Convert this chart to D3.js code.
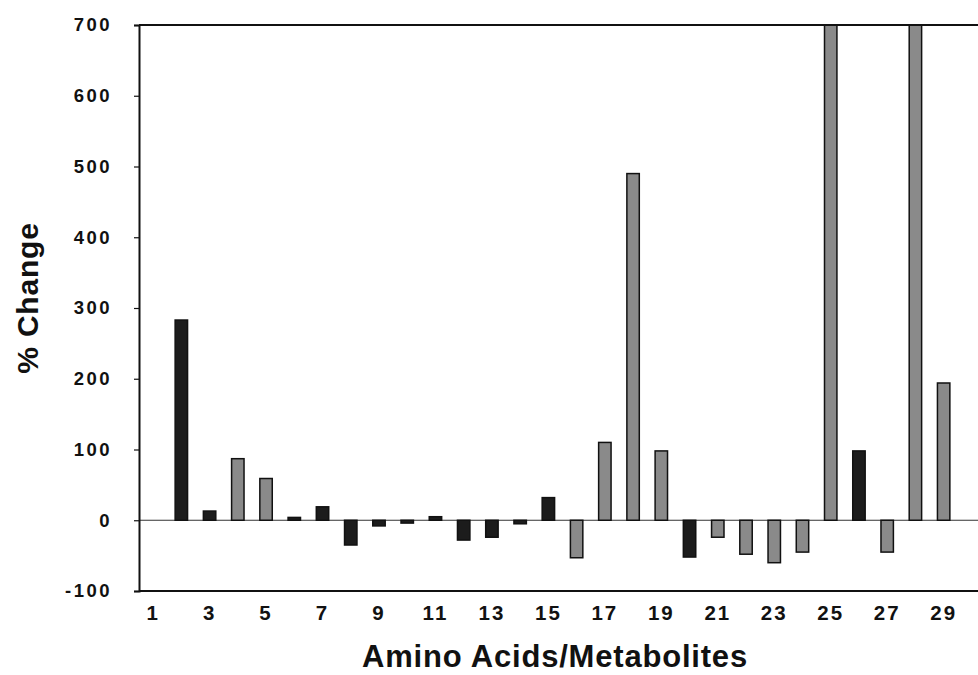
<!DOCTYPE html>
<html>
<head>
<meta charset="utf-8">
<script src="https://cdn.jsdelivr.net/npm/d3@7/dist/d3.min.js"></script>
<style>
  html, body { margin: 0; padding: 0; background: #fff; }
  svg { display: block; }
  text { font-family: Arial, "Liberation Sans", sans-serif; fill: #111; }
</style>
</head>
<body>
<svg id="chart" width="978" height="675"></svg>
<script>
// Amino acid / metabolite index 1..30
const categories = d3.range(1, 31);
// Percent change per metabolite
const values = [0, 283, 13, 87, 59, 4, 19, -35, -8, -4,
                5, -28, -24, -5, 32, -53, 110, 490, 98, -52,
                -24, -48, -60, -45, 760, 98, -45, 760, 194, 0];
// Bar shading: "k" = dark, "g" = gray
const shades = ["k", "k", "k", "g", "g", "k", "k", "k", "k", "k",
                "k", "k", "k", "k", "k", "g", "g", "g", "g", "k",
                "g", "g", "g", "g", "g", "k", "g", "g", "g", "g"];
const yTicks = [-100, 0, 100, 200, 300, 400, 500, 600, 700];
const xTickLabels = [1, 3, 5, 7, 9, 11, 13, 15, 17, 19, 21, 23, 25, 27, 29];

const svg = d3.select("#chart");
const plot = { left: 139, right: 986, top: 25, bottom: 591 };

const x = d3.scaleBand()
  .domain(categories)
  .range([plot.left, plot.right])
  .paddingInner(0.56)
  .paddingOuter(0.28);

const y = d3.scaleLinear()
  .domain([-100, 700])
  .range([plot.bottom, plot.top]);

svg.append("defs").append("clipPath").attr("id", "plotClip")
  .append("rect")
  .attr("x", plot.left).attr("y", plot.top)
  .attr("width", 978 - plot.left).attr("height", plot.bottom - plot.top);

// zero line
svg.append("line")
  .attr("x1", plot.left).attr("x2", 978)
  .attr("y1", y(0)).attr("y2", y(0))
  .attr("stroke", "#333").attr("stroke-width", 1.2);

// bars
const fillFor = { k: "#1c1c1c", g: "#8a8a8a" };
svg.append("g").attr("clip-path", "url(#plotClip)")
  .selectAll("rect")
  .data(categories.map((c, i) => ({ c, v: values[i], s: shades[i] })).filter(d => d.v !== 0))
  .join("rect")
  .attr("x", d => x(d.c))
  .attr("width", x.bandwidth())
  .attr("y", d => y(Math.max(0, d.v)))
  .attr("height", d => Math.abs(y(d.v) - y(0)))
  .attr("fill", d => fillFor[d.s])
  .attr("stroke", "#111")
  .attr("stroke-width", 1.5);

// frame: top and bottom lines
svg.append("line")
  .attr("x1", plot.left).attr("x2", 978)
  .attr("y1", plot.top).attr("y2", plot.top)
  .attr("stroke", "#111").attr("stroke-width", 2);
svg.append("line")
  .attr("x1", plot.left).attr("x2", 978)
  .attr("y1", plot.bottom).attr("y2", plot.bottom)
  .attr("stroke", "#111").attr("stroke-width", 2);

// y axis
const yAxis = d3.axisLeft(y)
  .tickValues(yTicks)
  .tickSize(5)
  .tickPadding(22)
  .tickFormat(d => String(d));
const gy = svg.append("g")
  .attr("transform", `translate(${plot.left},0)`)
  .call(yAxis);
gy.select(".domain").attr("stroke", "#111").attr("stroke-width", 2);
gy.selectAll(".tick line").attr("stroke", "#111").attr("stroke-width", 1.2);
gy.selectAll(".tick text")
  .style("font-size", "18.5px")
  .style("font-weight", "bold")
  .style("letter-spacing", "2.5px")
  .attr("fill", "#111");

// x labels
const gx = svg.append("g")
  .attr("transform", `translate(0,${plot.bottom})`)
  .call(d3.axisBottom(x)
    .tickValues(xTickLabels)
    .tickSize(0)
    .tickPadding(14)
    .tickFormat(d => String(d)));
gx.select(".domain").remove();
gx.selectAll(".tick text")
  .style("font-size", "20.5px")
  .style("font-weight", "bold")
  .style("letter-spacing", "2px")
  .attr("fill", "#111");

// axis titles
svg.append("text")
  .attr("x", 555).attr("y", 667)
  .attr("text-anchor", "middle")
  .style("font-size", "31px")
  .style("font-weight", "bold")
  .style("letter-spacing", "0.8px")
  .text("Amino Acids/Metabolites");

svg.append("text")
  .attr("transform", "translate(38,298) rotate(-90)")
  .attr("text-anchor", "middle")
  .style("font-size", "30px")
  .style("font-weight", "bold")
  .style("letter-spacing", "0.8px")
  .text("% Change");
</script>
</body>
</html>
